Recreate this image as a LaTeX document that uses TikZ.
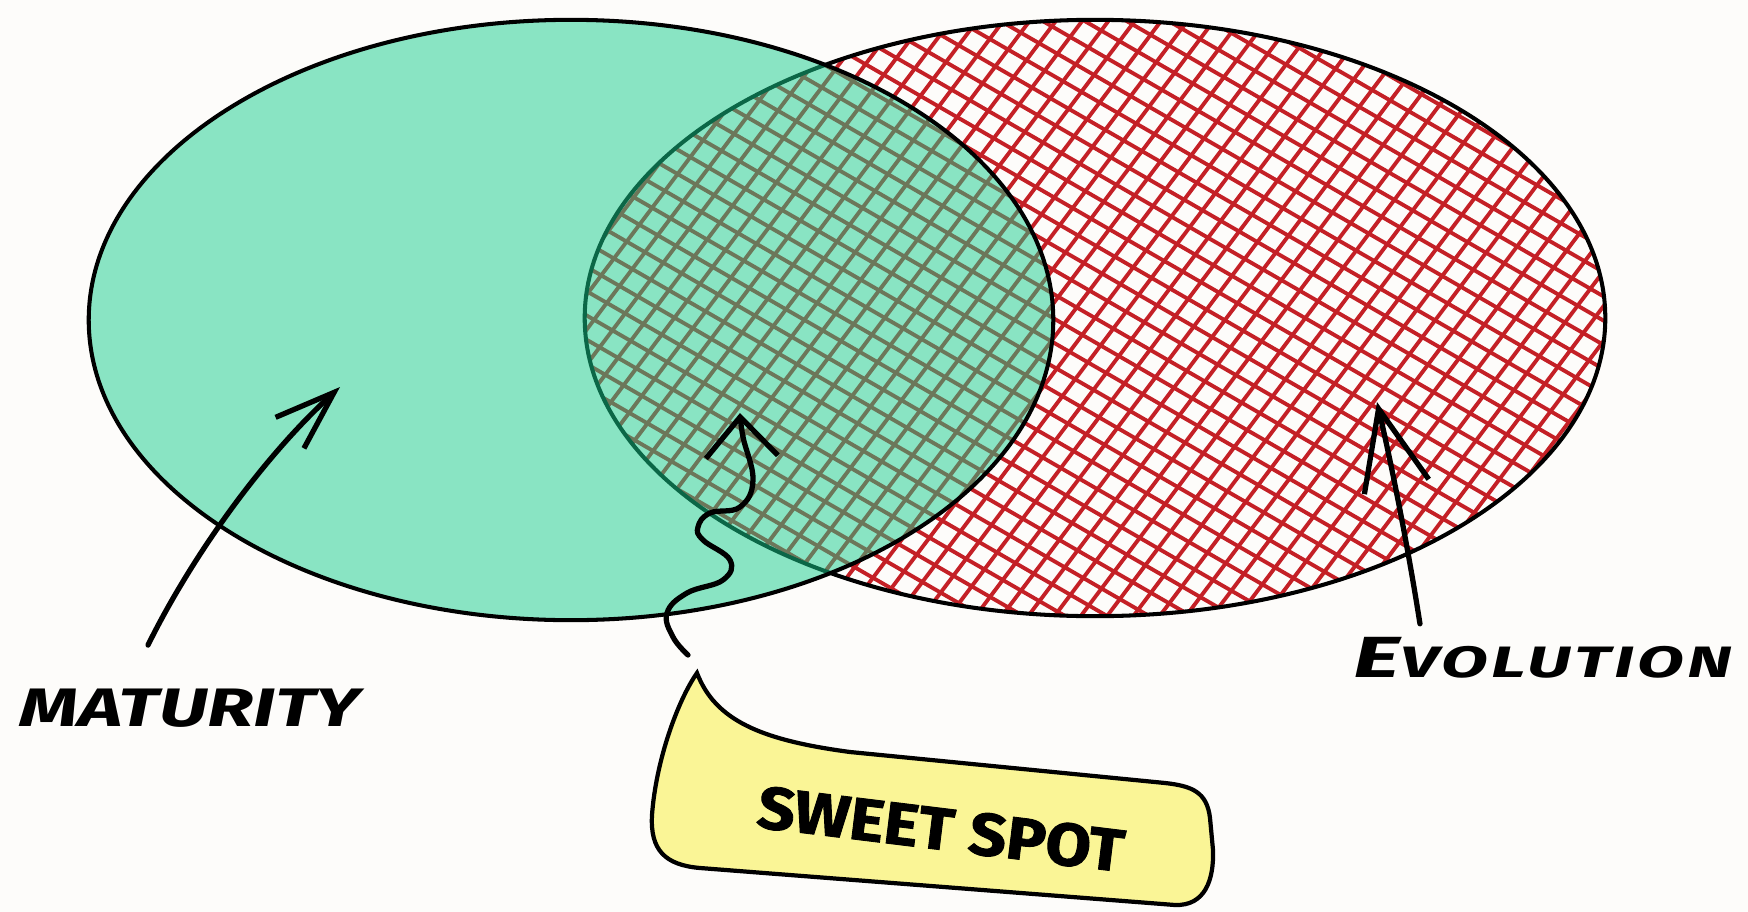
\documentclass[tikz,border=0pt]{standalone}
\usepackage{fontspec}
\usepackage{tikz}
\usetikzlibrary{arrows.meta, positioning, calc}
\newfontfamily\handfont[FakeStretch=1.4]{Fira Sans}
\newfontfamily\widehandfont[FakeStretch=1.55, LetterSpace=8]{Fira Sans}
\newfontfamily\blockfont[FakeStretch=1.1, FakeBold=1.5]{Fira Sans}
\definecolor{PaperWhite}{RGB}{253,252,250}
\definecolor{MintGreen}{RGB}{22,206,142}
\definecolor{HatchRed}{RGB}{196,32,38}
\definecolor{NoteYellow}{RGB}{250,245,150}

\begin{document}
\begin{tikzpicture}[x=0.01cm, y=-0.01cm,
  ring/.style={draw=black, line width=1.15pt},
  hatch/.style={HatchRed, line width=1.1pt},
  arr/.style={black, line width=1.5pt, line cap=round},
  handtext/.style={font=\handfont\bfseries\itshape\fontsize{15.4}{16}\selectfont, inner sep=0pt},
  spottext/.style={font=\blockfont\bfseries\fontsize{17}{18}\selectfont, inner sep=0pt},
]
\fill[PaperWhite] (0,0) rectangle (1748,912);
\useasboundingbox (0,0) rectangle (1748,912);

% evolution set: cross-hatched
\begin{scope}
  \clip (1095,318) ellipse [x radius=5.1cm, y radius=2.98cm];
  \begin{scope}[shift={(1095,318)}, rotate=-30]
    \foreach \d in {-651,-630,...,651} \draw[hatch] (-720,\d) -- (720,\d);
  \end{scope}
  \begin{scope}[shift={(1095,318)}, rotate=53]
    \foreach \d in {-651,-630,...,651} \draw[hatch] (-720,\d) -- (720,\d);
  \end{scope}
\end{scope}
\draw[ring] (1095,318) ellipse [x radius=5.1cm, y radius=2.98cm];

% maturity set on top
\draw[ring, fill=MintGreen, fill opacity=0.5] (571,320) ellipse [x radius=4.82cm, y radius=3cm];

% callout
\coordinate (tail) at (697,673);
\draw[line width=1.2pt, fill=NoteYellow] (tail) .. controls (678,700) and (656,760) .. (652,815)
  .. controls (650,850) and (665,865) .. (700,868) -- (1175,905)
  .. controls (1205,906) and (1214,880) .. (1213,850) -- (1210,818)
  .. controls (1207,792) and (1192,786) .. (1165,783) -- (850,752)
  .. controls (760,740) and (715,720) .. (tail) -- cycle;
\node[spottext, rotate=-7] (spot) at (941,829) {SWEET SPOT};

% labels
\node[handtext] (mat) at (190,708) {MATURITY};
\node[handtext, font=\widehandfont\bfseries\itshape] (evo) at (1543,658)
  {\fontsize{16.5}{17}\selectfont E\fontsize{12.5}{13}\selectfont VOLUTION};

\coordinate (matTip) at (340,387);
\coordinate (evoTip) at (1377,402);
\coordinate (spotTip) at (740,413);
\coordinate (spotFoot) at ($(tail)+(-9,-18)$);

% arrows
\draw[arr, -{Straight Barb[length=0.6cm, width=0.42cm]}] ($(mat.north)+(-42,-43)$)
  .. controls (190,560) and (260,460) .. (matTip);
\draw[arr, -{Straight Barb[length=0.8cm, width=0.66cm]}] ($(evo.north west)+(67,-13)$)
  .. controls (1410,560) and (1395,480) .. (evoTip);
\draw[arr, -{Straight Barb[length=0.4cm, width=0.72cm]}] plot[smooth, tension=0.7] coordinates {
  (spotFoot) (673,637) (667,613) (687,593) (723,580) (730,560) (703,540)
  (698,527) (710,513) (740,507) (753,480) (743,437) (spotTip)};
\end{tikzpicture}
\end{document}
